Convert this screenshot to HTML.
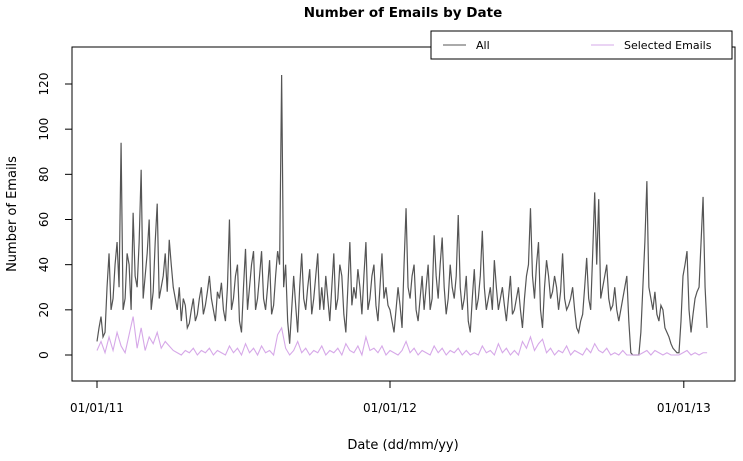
<!DOCTYPE html>
<html><head><meta charset="utf-8"><style>
body{margin:0;background:#fff}
svg text{font-family:"DejaVu Sans","Liberation Sans",sans-serif;fill:#000}
</style></head><body>
<svg id="chart" width="743" height="456" xmlns="http://www.w3.org/2000/svg">
<text x="403" y="17" text-anchor="middle" font-size="13.5" font-weight="bold">Number of Emails by Date</text>
<rect x="72" y="47" width="663" height="334" fill="none" stroke="#000"/>
<g id="yaxis"></g>
<g id="xaxis"></g>
<text transform="translate(16,214) rotate(-90)" text-anchor="middle" font-size="13">Number of Emails</text>
<text x="403" y="449" text-anchor="middle" font-size="13">Date (dd/mm/yy)</text>
<g id="series"></g>
<g>
<rect x="431" y="31" width="301" height="28" fill="#fff" stroke="#000"/>
<line x1="443" y1="45" x2="466" y2="45" stroke="#555"/>
<text x="476" y="49" font-size="11">All</text>
<line x1="591" y1="45" x2="614" y2="45" stroke="#d6a8e8"/>
<text x="624" y="49" font-size="11">Selected Emails</text>
</g>
</svg>
<script>
const yTicks=[0,20,40,60,80,100,120];
const xTickLabels=["01/01/11","01/01/12","01/01/13"];
const xTickDays=[0,365,731];
const spanDays=760;
const allEmails=[6,12,17,8,10,30,45,20,25,40,50,30,94,20,25,45,40,20,63,35,30,50,82,25,35,45,60,20,28,50,67,25,30,35,45,28,51,40,30,25,20,30,15,25,22,12,14,20,25,15,18,25,30,18,22,28,35,25,20,15,28,25,32,20,15,30,60,20,25,35,40,15,10,30,47,20,30,40,46,20,25,35,46,25,20,30,42,18,22,35,46,40,124,30,40,15,5,20,35,22,10,30,45,25,20,30,38,18,25,35,45,20,30,20,35,25,15,30,45,20,25,40,35,18,10,30,50,22,30,25,38,30,18,35,50,20,25,35,40,22,15,30,45,25,30,22,20,15,10,20,30,22,12,40,65,30,25,35,40,20,15,25,35,20,30,40,20,25,53,35,25,40,52,30,18,25,40,30,25,35,62,30,20,25,35,15,10,25,38,20,25,35,55,30,20,25,30,20,42,30,20,25,30,22,15,25,35,18,20,25,30,20,12,25,35,40,65,35,25,40,50,20,12,30,42,35,25,28,35,30,20,28,45,25,20,22,25,30,20,12,10,15,18,30,43,25,20,45,72,40,69,25,30,35,40,25,20,22,30,20,15,20,25,30,35,15,1,0,0,0,0,10,30,50,77,30,25,20,28,18,15,22,20,12,10,8,5,3,2,1,1,15,35,40,46,20,10,18,25,28,30,50,70,30,12];
const selectedEmails=[2,6,1,8,2,10,4,1,9,17,3,12,2,8,5,10,3,6,4,2,1,0,2,1,3,0,2,1,3,0,2,1,0,4,1,3,0,5,1,3,0,4,1,2,0,9,12,3,0,2,6,1,3,0,2,1,4,0,2,1,3,0,5,2,1,4,0,8,2,3,1,4,0,2,1,0,2,6,1,3,0,2,1,0,4,1,3,0,2,1,3,0,2,0,1,0,4,1,2,0,5,1,3,0,2,0,6,3,8,2,5,7,1,3,0,2,1,4,0,2,1,0,3,1,5,2,1,3,0,1,0,2,0,0,0,0,1,2,0,2,1,0,1,0,0,0,1,2,0,1,0,1,1];
const NS="http://www.w3.org/2000/svg";
const x0=97,pxPerDay=293/365,y0=355,pxPerUnit=(355-84)/120;
const xs=d=>x0+d*pxPerDay, ys=v=>y0-v*pxPerUnit;
const yax=document.getElementById('yaxis'),xax=document.getElementById('xaxis'),ser=document.getElementById('series');
function mk(t,a,p){const e=document.createElementNS(NS,t);for(const k in a)e.setAttribute(k,a[k]);p.appendChild(e);return e;}
mk('line',{x1:72,y1:ys(0),x2:72,y2:ys(120),stroke:'#000'},yax);
yTicks.forEach(v=>{
 const l=mk('line',{x1:65,x2:72,y1:ys(v),y2:ys(v),stroke:'#000'},yax);
 
 
 const t=mk('text',{transform:`translate(48,${ys(v)}) rotate(-90)`,'text-anchor':'middle','font-size':12},yax);
 t.textContent=v;
 
 
});
mk('line',{x1:xs(0),x2:xs(731),y1:381,y2:381,stroke:'#000'},xax);
xTickDays.forEach((d,i)=>{
 const l=mk('line',{x1:xs(d),x2:xs(d),y1:381,y2:388,stroke:'#000'},xax);
 
 
 const t=mk('text',{x:xs(d),y:412,'text-anchor':'middle','font-size':12},xax);
 t.textContent=xTickLabels[i];
 
 
});
function line(arr,col,name,w){
 const step=spanDays/(arr.length-1);
 const p=mk('polyline',{points:arr.map((v,i)=>xs(i*step)+','+ys(v)).join(' '),fill:'none',stroke:col,'stroke-width':w},ser);
 
 
}
line(allEmails,'#555','series-all',1.2);
line(selectedEmails,'#d6a8e8','series-selected',1.1);
</script>
</body></html>
